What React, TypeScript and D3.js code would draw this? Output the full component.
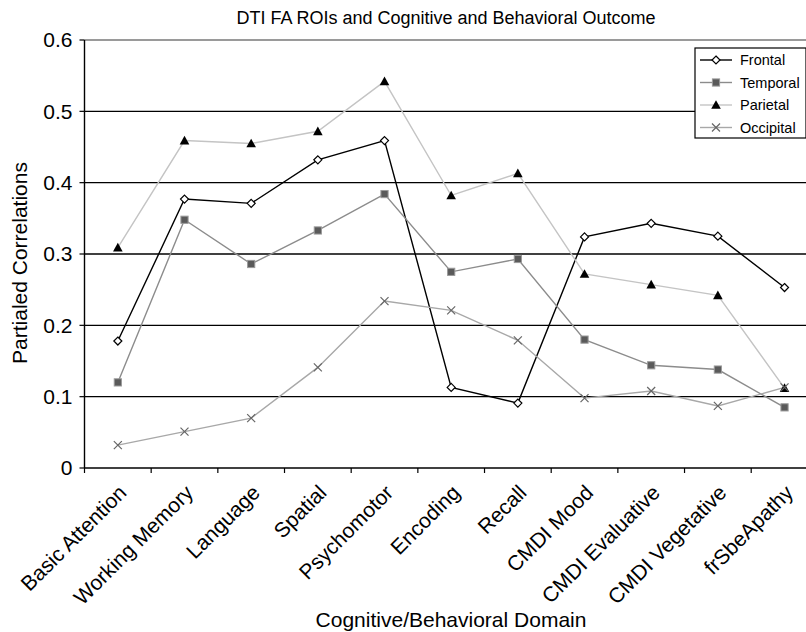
import React from "react";
import * as d3 from "d3";

const categories = [
  "Basic Attention", "Working Memory", "Language", "Spatial", "Psychomotor",
  "Encoding", "Recall", "CMDI Mood", "CMDI Evaluative", "CMDI Vegetative", "frSbeApathy",
];
const frontal = [0.178, 0.377, 0.371, 0.432, 0.459, 0.113, 0.091, 0.324, 0.343, 0.325, 0.253];
const temporal = [0.120, 0.348, 0.286, 0.333, 0.384, 0.275, 0.293, 0.180, 0.144, 0.138, 0.085];
const parietal = [0.309, 0.459, 0.455, 0.472, 0.542, 0.382, 0.413, 0.272, 0.257, 0.242, 0.112];
const occipital = [0.032, 0.051, 0.070, 0.141, 0.234, 0.221, 0.179, 0.098, 0.108, 0.087, 0.113];
const yTicks = [0, 0.1, 0.2, 0.3, 0.4, 0.5, 0.6];
const seriesNames = ["Frontal", "Temporal", "Parietal", "Occipital"];

const W = 806, H = 632;
const FONT = "'Liberation Sans', Arial, sans-serif";

type Kind = "diamond" | "square" | "triangle" | "cross";
const series: { name: string; values: number[]; line: string; kind: Kind }[] = [
  { name: seriesNames[0], values: frontal, line: "#000", kind: "diamond" },
  { name: seriesNames[1], values: temporal, line: "#8c8c8c", kind: "square" },
  { name: seriesNames[2], values: parietal, line: "#c4c4c4", kind: "triangle" },
  { name: seriesNames[3], values: occipital, line: "#a8a8a8", kind: "cross" },
];

function Marker({ kind, x, y }: { kind: Kind; x: number; y: number }) {
  if (kind === "diamond") {
    const r = 4;
    return <path d={`M${x},${y - r}L${x + r},${y}L${x},${y + r}L${x - r},${y}Z`} fill="#fff" stroke="#000" strokeWidth={1.2} />;
  }
  if (kind === "square") {
    const r = 3.6;
    return <rect x={x - r} y={y - r} width={2 * r} height={2 * r} fill="#5a5a5a" stroke="#9a9a9a" strokeWidth={1} />;
  }
  if (kind === "triangle") {
    const r = 4.8;
    return <path d={`M${x},${y - r}L${x + r},${y + r * 0.8}L${x - r},${y + r * 0.8}Z`} fill="#000" />;
  }
  const r = 4;
  return <path d={`M${x - r},${y - r}L${x + r},${y + r}M${x - r},${y + r}L${x + r},${y - r}`} stroke="#666" strokeWidth={1.2} fill="none" />;
}

export default function App() {
  const left = 84.5, top = 40, bottom = 468;
  const x = d3.scaleBand<string>().domain(categories).range([left, left + 66.67 * categories.length]);
  const y = d3.scaleLinear().domain([0, 0.6]).range([bottom, top]);
  const right = left + 66.67 * categories.length;
  const cx = (c: string) => (x(c) as number) + x.bandwidth() / 2;
  const line = d3.line<number>().x((_, i) => cx(categories[i])).y((v) => y(v));
  const boundaries = d3.range(categories.length + 1).map((i) => left + x.step() * i);

  const lx = 695, ly = 48, lw = 111, lh = 90;

  return (
    <svg width={W} height={H} style={{ position: "absolute", left: 0, top: 0, background: "#fff" }} fontFamily={FONT}>
      <rect width={W} height={H} fill="#fff" />
      <text x={446} y={24} textAnchor="middle" fontSize={18}>DTI FA ROIs and Cognitive and Behavioral Outcome</text>
      {yTicks.map((t) => (
        <line key={t} x1={left} x2={right} y1={y(t)} y2={y(t)}
          stroke={t === 0.6 ? "#9a9a9a" : "#000"} strokeWidth={t === 0.6 ? 2 : 1.4} />
      ))}
      <line x1={left} x2={left} y1={top} y2={bottom} stroke="#000" strokeWidth={1.4} />
      {yTicks.map((t) => (
        <g key={"yt" + t}>
          <line x1={left - 5} x2={left} y1={y(t)} y2={y(t)} stroke="#000" strokeWidth={1.2} />
          <text x={left - 12} y={y(t)} dy="0.35em" textAnchor="end" fontSize={21}>{t === 0 ? "0" : t.toFixed(1)}</text>
        </g>
      ))}
      {boundaries.map((b, i) => (
        <line key={"xt" + i} x1={b} x2={b} y1={bottom} y2={bottom + 5} stroke="#000" strokeWidth={1.2} />
      ))}
      {categories.map((c) => (
        <text key={c} transform={`translate(${cx(c) + 10},${bottom + 26}) rotate(-45)`} textAnchor="end" fontSize={21}>{c}</text>
      ))}
      <text transform={`translate(27,263) rotate(-90)`} textAnchor="middle" fontSize={21}>Partialed Correlations</text>
      <text x={451} y={627} textAnchor="middle" fontSize={21}>Cognitive/Behavioral Domain</text>
      {series.map((s) => (
        <path key={s.name} d={line(s.values) as string} fill="none" stroke={s.line} strokeWidth={1.4} />
      ))}
      {series.map((s) => (
        <g key={s.name + "m"}>
          {s.values.map((v, i) => <Marker key={i} kind={s.kind} x={cx(categories[i])} y={y(v)} />)}
        </g>
      ))}
      <rect x={lx} y={ly} width={lw} height={lh} fill="#fff" stroke="#000" strokeWidth={1.2} />
      {series.map((s, i) => {
        const yy = ly + 12 + i * 22.5;
        return (
          <g key={s.name + "l"}>
            <line x1={lx + 5} x2={lx + 37} y1={yy} y2={yy} stroke={s.line} strokeWidth={1.4} />
            <Marker kind={s.kind} x={lx + 21} y={yy} />
            <text x={lx + 45} y={yy} dy="0.35em" fontSize={14.5}>{s.name}</text>
          </g>
        );
      })}
    </svg>
  );
}
